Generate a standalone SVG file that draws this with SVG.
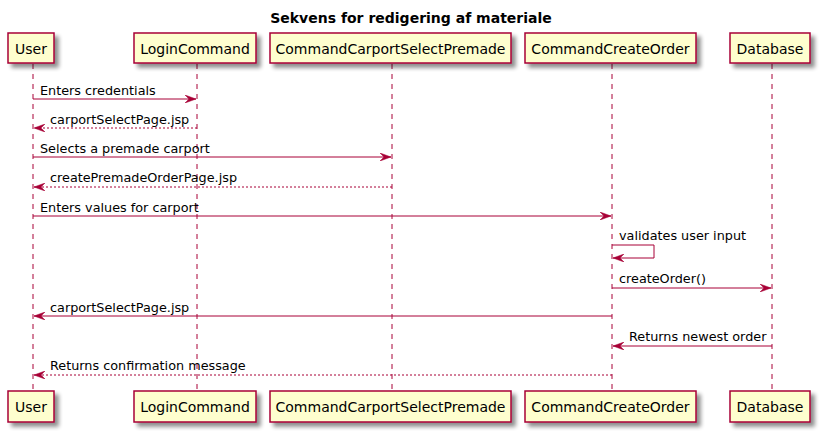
<svg xmlns="http://www.w3.org/2000/svg" width="820" height="432" viewBox="0 0 820 432">
<defs>
<filter id="sh" x="-10%" y="-20%" width="130%" height="160%">
<feGaussianBlur in="SourceAlpha" stdDeviation="2"/>
<feOffset dx="4" dy="4" result="b"/>
<feComponentTransfer><feFuncA type="linear" slope="0.45"/></feComponentTransfer>
<feMerge><feMergeNode/><feMergeNode in="SourceGraphic"/></feMerge>
</filter>
<marker id="ah" viewBox="0 0 11 8" refX="11" refY="4" markerWidth="11" markerHeight="8" markerUnits="userSpaceOnUse" orient="auto">
<polygon points="0,0 11,4 0,8 4,4" fill="#A80036" stroke="#A80036" stroke-width="0.5"/>
</marker>
</defs>
<style>
text{font-family:"DejaVu Sans",Verdana,sans-serif;fill:#000}
.p{font-size:14px;text-anchor:middle}
.m{font-size:12.8px}
.box{fill:#FEFECE;stroke:#A80036;stroke-width:1.5;filter:url(#sh)}
.life{stroke:#A80036;stroke-width:1;stroke-dasharray:5,5;fill:none}
.a{stroke:#A80036;stroke-width:1;fill:none;marker-end:url(#ah)}
.d{stroke-dasharray:2,2}
</style>
<rect width="820" height="432" fill="#fff"/>
<text x="411" y="23" font-size="14" font-weight="bold" text-anchor="middle" style="font-family:'DejaVu Sans',sans-serif">Sekvens for redigering af materiale</text>
<g id="lifelines">
<line class="life" x1="33" y1="64" x2="33" y2="391"/>
<line class="life" x1="197" y1="64" x2="197" y2="391"/>
<line class="life" x1="392" y1="64" x2="392" y2="391"/>
<line class="life" x1="612" y1="64" x2="612" y2="391"/>
<line class="life" x1="772" y1="64" x2="772" y2="391"/>
</g>
<g id="user">
<rect class="box" x="8" y="33" width="46" height="30"/>
<text class="p" x="31" y="53.5">User</text>
<rect class="box" x="8" y="391" width="46" height="31"/>
<text class="p" x="31" y="412">User</text>
</g>
<g id="login">
<rect class="box" x="134" y="33" width="122" height="30"/>
<text class="p" x="195" y="53.5">LoginCommand</text>
<rect class="box" x="134" y="391" width="122" height="31"/>
<text class="p" x="195" y="412">LoginCommand</text>
</g>
<g id="ccsp">
<rect class="box" x="270" y="33" width="241" height="30"/>
<text class="p" x="390.5" y="53.5">CommandCarportSelectPremade</text>
<rect class="box" x="270" y="391" width="241" height="31"/>
<text class="p" x="390.5" y="412">CommandCarportSelectPremade</text>
</g>
<g id="cco">
<rect class="box" x="525" y="33" width="171" height="30"/>
<text class="p" x="610.5" y="53.5">CommandCreateOrder</text>
<rect class="box" x="525" y="391" width="171" height="31"/>
<text class="p" x="610.5" y="412">CommandCreateOrder</text>
</g>
<g id="db">
<rect class="box" x="730" y="33" width="80" height="30"/>
<text class="p" x="770" y="53.5">Database</text>
<rect class="box" x="730" y="391" width="80" height="31"/>
<text class="p" x="770" y="412">Database</text>
</g>
<g id="connectors">
<line class="a" x1="33" y1="99" x2="196" y2="99"/>
<text class="m" x="40" y="95">Enters credentials</text>
<line class="a d" x1="197" y1="128" x2="34" y2="128"/>
<text class="m" x="50" y="124">carportSelectPage.jsp</text>
<line class="a" x1="33" y1="157" x2="391" y2="157"/>
<text class="m" x="40" y="153">Selects a premade carport</text>
<line class="a d" x1="392" y1="187" x2="34" y2="187"/>
<text class="m" x="50" y="182">createPremadeOrderPage.jsp</text>
<line class="a" x1="33" y1="216" x2="611" y2="216"/>
<text class="m" x="40" y="212">Enters values for carport</text>
<polyline class="a" points="612,245 654,245 654,258 613,258"/>
<text class="m" x="619" y="240">validates user input</text>
<line class="a" x1="612" y1="288" x2="771" y2="288"/>
<text class="m" x="619" y="283">createOrder()</text>
<line class="a" x1="612" y1="316" x2="34" y2="316"/>
<text class="m" x="50" y="312">carportSelectPage.jsp</text>
<line class="a" x1="772" y1="346" x2="613" y2="346"/>
<text class="m" x="629" y="341">Returns newest order</text>
<line class="a d" x1="612" y1="375" x2="34" y2="375"/>
<text class="m" x="50" y="370">Returns confirmation message</text>
</g>
</svg>
